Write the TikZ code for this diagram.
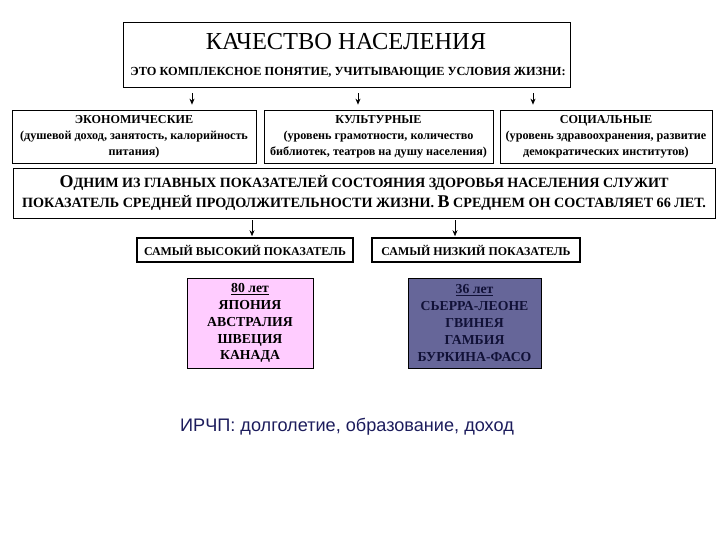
\documentclass[tikz,border=0pt]{standalone}
\usepackage{fontspec}
\setmainfont{Liberation Serif}
\newfontfamily\arialfont{Liberation Sans}
\usetikzlibrary{arrows.meta, positioning}
\definecolor{kpink}{RGB}{255, 204, 255}
\definecolor{kslate}{RGB}{102, 102, 153}
\definecolor{knavy}{RGB}{28, 28, 92}
\newcommand{\capfirst}[1]{{\fontsize{18}{18}\selectfont #1}}

\begin{document}
\begin{tikzpicture}[x=1bp, y=-1bp, >={Stealth[length=6bp, width=5bp]},
  frame/.style={draw, line width=0.7pt, inner sep=0pt, align=center},
  headbox/.style={draw, line width=1.6pt, inner sep=0pt,
    minimum height=24bp, font=\bfseries\fontsize{12}{12}\selectfont},
  factor/.style={frame, minimum height=53bp,
    font=\bfseries\fontsize{12.2}{16}\selectfont},
  listbox/.style={frame, minimum height=90bp,
    font=\bfseries\fontsize{13.8}{17}\selectfont},
  arr/.style={->, line width=0.7pt, shorten <=6bp, shorten >=5bp}]

  \useasboundingbox (0,0) rectangle (720,540);

  % --- top box ---
  \node[frame, minimum width=447bp, minimum height=65bp] (top) at (346.5,54.5) {};
  \node[font=\fontsize{24.5}{24.5}\selectfont] (title) at (346,42)
    {КАЧЕСТВО НАСЕЛЕНИЯ};
  \node[font=\bfseries\fontsize{12.4}{12.4}\selectfont] (sub) at (348,73)
    {ЭТО КОМПЛЕКСНОЕ ПОНЯТИЕ, УЧИТЫВАЮЩИЕ УСЛОВИЯ ЖИЗНИ:};

  % --- three factors ---
  \node[factor, minimum width=244bp] (econ) at (134,136.5)
    {ЭКОНОМИЧЕСКИЕ\\(душевой доход, занятость, калорийность\\питания)};
  \node[factor, minimum width=229bp] (cult) at (378.5,136.5)
    {КУЛЬТУРНЫЕ\\(уровень грамотности, количество\\библиотек, театров на душу населения)};
  \node[factor, minimum width=212bp] (soc) at (606,136.5)
    {СОЦИАЛЬНЫЕ\\(уровень здравоохранения, развитие\\демократических институтов)};

  % --- arrows from the top box ---
  \coordinate (a1) at (192,0);
  \coordinate (a2) at (358,0);
  \coordinate (a3) at (533,0);
  \draw[arr] (a1 |- top.south) -- (a1 |- econ.north);
  \draw[arr] (a2 |- top.south) -- (a2 |- cult.north);
  \draw[arr] (a3 |- top.south) -- (a3 |- soc.north);

  % --- life expectancy ---
  \node[frame, minimum width=702bp, minimum height=50bp,
    font=\bfseries\fontsize{14.2}{21}\selectfont] (life) at (364,193)
    {\capfirst{О}ДНИМ ИЗ ГЛАВНЫХ ПОКАЗАТЕЛЕЙ СОСТОЯНИЯ ЗДОРОВЬЯ НАСЕЛЕНИЯ СЛУЖИТ\\
     ПОКАЗАТЕЛЬ СРЕДНЕЙ ПРОДОЛЖИТЕЛЬНОСТИ ЖИЗНИ. \capfirst{В} СРЕДНЕМ ОН СОСТАВЛЯЕТ 66 ЛЕТ.};

  % --- highest / lowest ---
  \node[headbox, minimum width=216bp] (high) at (245,250)
    {САМЫЙ ВЫСОКИЙ ПОКАЗАТЕЛЬ};
  \node[headbox, minimum width=208bp] (low) at (476,250)
    {САМЫЙ НИЗКИЙ ПОКАЗАТЕЛЬ};
  \coordinate (b1) at (252,0);
  \coordinate (b2) at (455,0);
  \draw[arr, shorten <=2bp, shorten >=1bp] (b1 |- life.south) -- (b1 |- high.north);
  \draw[arr, shorten <=2bp, shorten >=1bp] (b2 |- life.south) -- (b2 |- low.north);

  % --- country lists ---
  \node[listbox, fill=kpink, minimum width=126bp] (highlist) at (250,323)
    {\underline{80 лет}\\ЯПОНИЯ\\АВСТРАЛИЯ\\ШВЕЦИЯ\\КАНАДА};
  \node[listbox, fill=kslate, text=knavy!60!black, minimum width=133bp] (lowlist) at (474.5,323)
    {\underline{36 лет}\\СЬЕРРА-ЛЕОНЕ\\ГВИНЕЯ\\ГАМБИЯ\\БУРКИНА-ФАСО};

  % --- HDI note ---
  \node[font=\arialfont\fontsize{18.2}{18.2}\selectfont, text=knavy] (hdi) at (347,427)
    {ИРЧП: долголетие, образование, доход};

\end{tikzpicture}
\end{document}
